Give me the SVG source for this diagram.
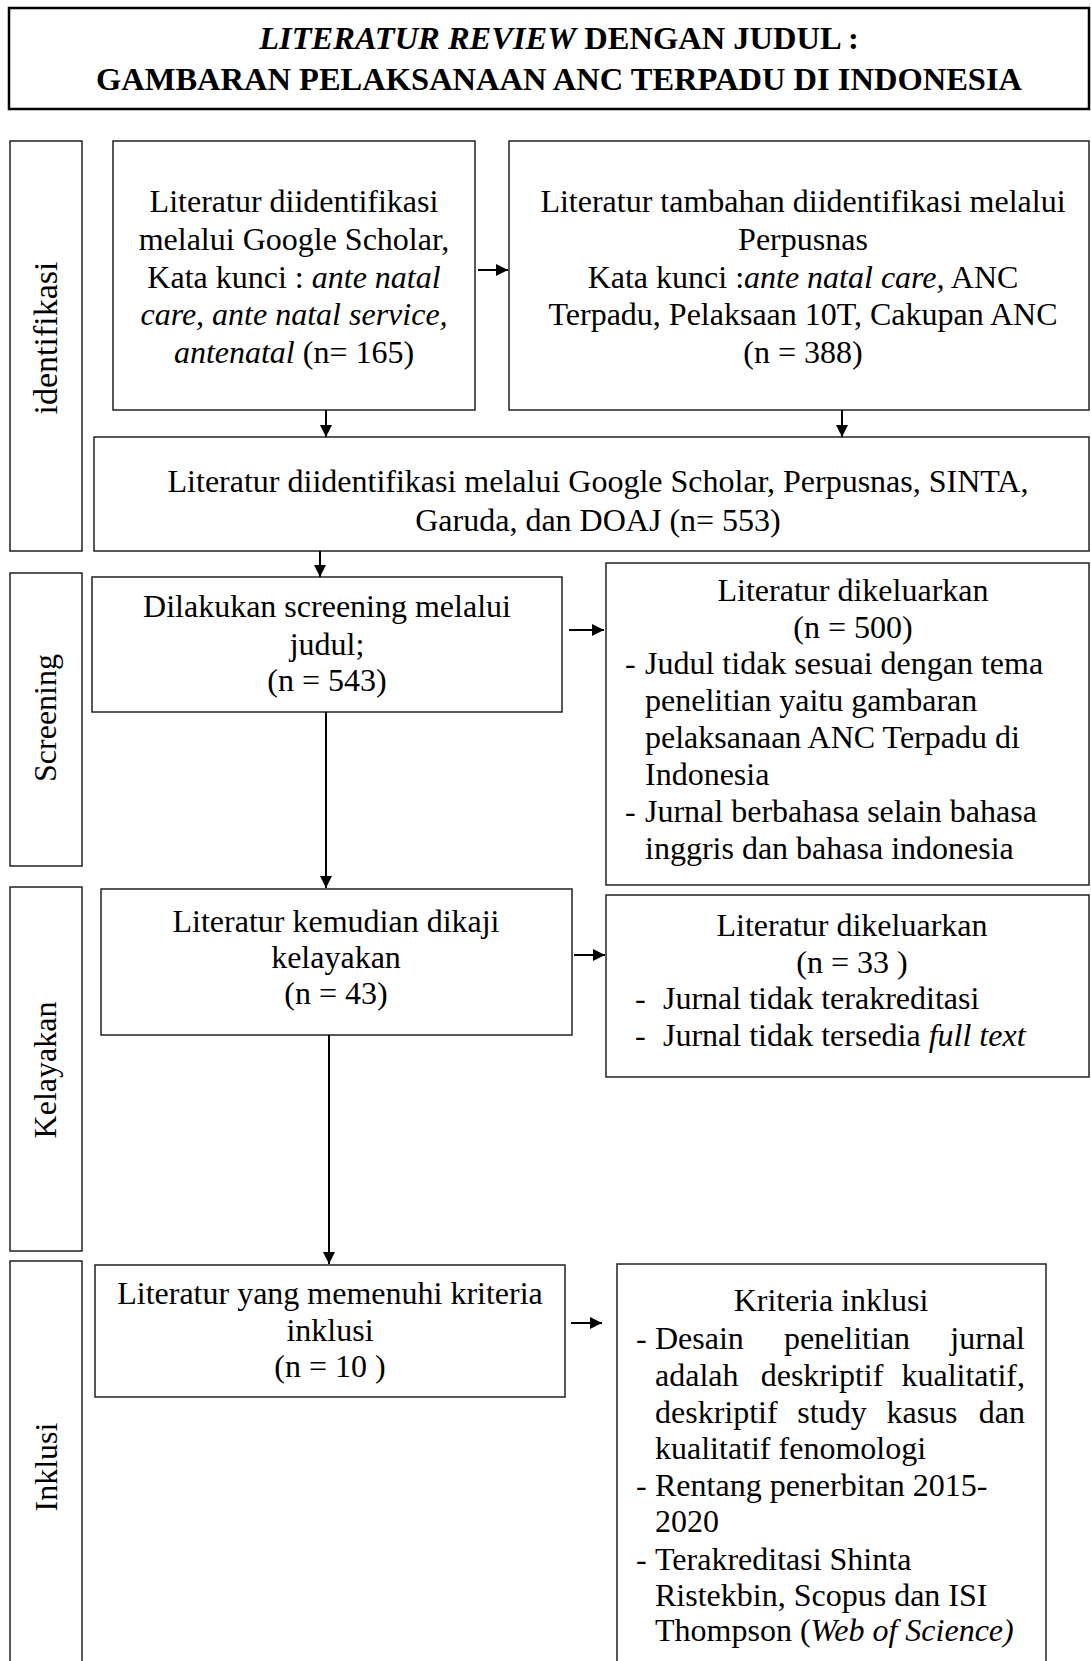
<svg xmlns="http://www.w3.org/2000/svg" width="1091" height="1661" viewBox="0 0 1091 1661">
<defs>
<style>
.bx{fill:#fff;stroke:#222;stroke-width:1.5}
.tb{fill:#fff;stroke:#000;stroke-width:2.5}
.t{font-family:"Liberation Serif","Times New Roman",serif;font-size:32px;fill:#000}
.h{font-size:32.5px}
.c{text-anchor:middle}
.e{text-anchor:end}
.b{font-weight:bold}
.i{font-style:italic}
.cn{stroke:#000;stroke-width:2;fill:none;marker-end:url(#ah)}
</style>
<marker id="ah" markerUnits="userSpaceOnUse" markerWidth="12" markerHeight="12" refX="12" refY="6" orient="auto">
<path d="M0,0 L12,6 L0,12 z" fill="#000"/>
</marker>
</defs>
<rect width="1091" height="1661" fill="#fff"/>

<g id="title">
<rect class="tb" x="9" y="8" width="1080" height="101"/>
<text class="t h c b" x="559" y="49"><tspan class="i">LITERATUR REVIEW</tspan> DENGAN JUDUL :</text>
<text class="t h c b" x="559" y="90">GAMBARAN PELAKSANAAN ANC TERPADU DI INDONESIA</text>
</g>

<g id="lbl-identifikasi">
<rect class="bx" x="10" y="141" width="72" height="410"/>
<text class="t c" style="font-size:34px" transform="translate(57,338) rotate(-90)">identifikasi</text>
</g>
<g id="lbl-screening">
<rect class="bx" x="10" y="573" width="72" height="293"/>
<text class="t c" transform="translate(56,718) rotate(-90)">Screening</text>
</g>
<g id="lbl-kelayakan">
<rect class="bx" x="10" y="887" width="72" height="364"/>
<text class="t c" transform="translate(56,1070) rotate(-90)">Kelayakan</text>
</g>
<g id="lbl-inklusi">
<rect class="bx" x="10" y="1261" width="72" height="414"/>
<text class="t c" transform="translate(57,1467) rotate(-90)">Inklusi</text>
</g>

<g id="box-a">
<rect class="bx" x="113" y="141" width="362" height="269"/>
<text class="t c" x="294" y="212">Literatur diidentifikasi</text>
<text class="t c" x="294" y="250">melalui Google Scholar,</text>
<text class="t c" x="294" y="288">Kata kunci : <tspan class="i">ante natal</tspan></text>
<text class="t c i" x="294" y="325">care, ante natal service,</text>
<text class="t c" x="294" y="363"><tspan class="i">antenatal</tspan> (n= 165)</text>
</g>

<g id="box-b">
<rect class="bx" x="509" y="141" width="580" height="269"/>
<text class="t c" x="803" y="212">Literatur tambahan diidentifikasi melalui</text>
<text class="t c" x="803" y="250">Perpusnas</text>
<text class="t c" x="803" y="288">Kata kunci :<tspan class="i">ante natal care,</tspan> ANC</text>
<text class="t c" x="803" y="325">Terpadu, Pelaksaan 10T, Cakupan ANC</text>
<text class="t c" x="803" y="363">(n = 388)</text>
</g>

<g id="box-c">
<rect class="bx" x="94" y="437" width="995" height="114"/>
<text class="t c" x="598" y="492">Literatur diidentifikasi melalui Google Scholar, Perpusnas, SINTA,</text>
<text class="t c" x="598" y="531">Garuda, dan DOAJ (n= 553)</text>
</g>

<g id="box-d">
<rect class="bx" x="92" y="577" width="470" height="135"/>
<text class="t c" x="327" y="617">Dilakukan screening melalui</text>
<text class="t c" x="327" y="655">judul;</text>
<text class="t c" x="327" y="691">(n = 543)</text>
</g>

<g id="box-e">
<rect class="bx" x="606" y="563" width="483" height="322"/>
<text class="t c" x="853" y="601">Literatur dikeluarkan</text>
<text class="t c" x="853" y="638">(n = 500)</text>
<text class="t" x="625" y="674">-</text>
<text class="t" x="645" y="674">Judul tidak sesuai dengan tema</text>
<text class="t" x="645" y="711">penelitian yaitu gambaran</text>
<text class="t" x="645" y="748">pelaksanaan ANC Terpadu di</text>
<text class="t" x="645" y="785">Indonesia</text>
<text class="t" x="625" y="822">-</text>
<text class="t" x="645" y="822">Jurnal berbahasa selain bahasa</text>
<text class="t" x="645" y="859">inggris dan bahasa indonesia</text>
</g>

<g id="box-f">
<rect class="bx" x="101" y="889" width="471" height="146"/>
<text class="t c" x="336" y="932">Literatur kemudian dikaji</text>
<text class="t c" x="336" y="968">kelayakan</text>
<text class="t c" x="336" y="1004">(n = 43)</text>
</g>

<g id="box-g">
<rect class="bx" x="606" y="895" width="483" height="182"/>
<text class="t c" x="852" y="936">Literatur dikeluarkan</text>
<text class="t c" x="852" y="973">(n = 33 )</text>
<text class="t" x="635" y="1009">-</text>
<text class="t" x="663" y="1009">Jurnal tidak terakreditasi</text>
<text class="t" x="635" y="1046">-</text>
<text class="t" x="663" y="1046">Jurnal tidak tersedia <tspan class="i">full text</tspan></text>
</g>

<g id="box-h">
<rect class="bx" x="95" y="1265" width="470" height="132"/>
<text class="t c" x="330" y="1304">Literatur yang memenuhi kriteria</text>
<text class="t c" x="330" y="1341">inklusi</text>
<text class="t c" x="330" y="1377">(n = 10 )</text>
</g>

<g id="box-i">
<rect class="bx" x="617" y="1264" width="429" height="411"/>
<text class="t c" x="831" y="1311">Kriteria inklusi</text>
<text class="t" x="636" y="1349">-</text>
<text class="t" x="655" y="1349">Desain</text>
<text class="t c" x="847" y="1349">penelitian</text>
<text class="t e" x="1025" y="1349">jurnal</text>
<text class="t" x="655" y="1386">adalah</text>
<text class="t c" x="822" y="1386">deskriptif</text>
<text class="t e" x="1025" y="1386">kualitatif,</text>
<text class="t" x="655" y="1423">deskriptif</text>
<text class="t c" x="832" y="1423">study</text>
<text class="t c" x="922" y="1423">kasus</text>
<text class="t e" x="1025" y="1423">dan</text>
<text class="t" x="655" y="1459">kualitatif fenomologi</text>
<text class="t" x="636" y="1496">-</text>
<text class="t" x="655" y="1496">Rentang penerbitan 2015-</text>
<text class="t" x="655" y="1532">2020</text>
<text class="t" x="636" y="1570">-</text>
<text class="t" x="655" y="1570">Terakreditasi Shinta</text>
<text class="t" x="655" y="1606">Ristekbin, Scopus dan ISI</text>
<text class="t" x="655" y="1641">Thompson (<tspan class="i">Web of Science)</tspan></text>
</g>

<g id="connectors">
<line class="cn" x1="478" y1="270" x2="508" y2="270"/>
<line class="cn" x1="326" y1="410" x2="326" y2="437"/>
<line class="cn" x1="842" y1="410" x2="842" y2="437"/>
<line class="cn" x1="320" y1="551" x2="320" y2="577"/>
<line class="cn" x1="569" y1="630" x2="604" y2="630"/>
<line class="cn" x1="326" y1="712" x2="326" y2="888"/>
<line class="cn" x1="574" y1="955" x2="605" y2="955"/>
<line class="cn" x1="329" y1="1035" x2="329" y2="1264"/>
<line class="cn" x1="571" y1="1323" x2="602" y2="1323"/>
</g>
</svg>
